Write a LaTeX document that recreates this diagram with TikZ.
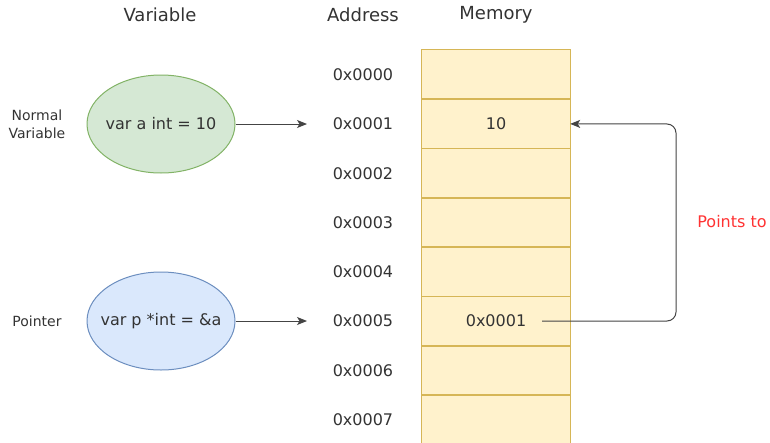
\documentclass[tikz,border=0pt]{standalone}
\usepackage{fontspec}
\setmainfont{DejaVu Sans}
\usetikzlibrary{arrows.meta,shapes.geometric}
\definecolor{txt}{HTML}{333333}
\definecolor{memfill}{HTML}{FFF2CC}
\definecolor{memline}{HTML}{D6B656}
\definecolor{gfill}{HTML}{D5E8D4}
\definecolor{gline}{HTML}{82B366}
\definecolor{bfill}{HTML}{DAE8FC}
\definecolor{bline}{HTML}{6C8EBF}
\definecolor{arr}{HTML}{444444}
\definecolor{redtxt}{HTML}{FF3333}
\tikzset{
  header/.style={font=\fontsize{18}{21}\selectfont, text=txt, inner sep=0pt},
  body/.style={font=\fontsize{16}{19}\selectfont, text=txt, inner sep=0pt},
  side/.style={font=\fontsize{14}{18}\selectfont, text=txt, inner sep=0pt, align=center},
  cell/.style={fill=memfill, minimum width=148pt, minimum height=49.3pt, inner sep=0pt, font=\fontsize{16}{19}\selectfont, text=txt},
  cellborder/.style={draw=memline, line width=1.3pt},
  varell/.style={ellipse, line width=1pt, minimum width=148pt, minimum height=98pt, inner sep=0pt},
  conn/.style={draw=arr, line width=1pt, -{Stealth[length=10pt,width=8pt,inset=2.5pt]}}
}
\begin{document}
\begin{tikzpicture}[x=1pt,y=-1pt]
\useasboundingbox (0,0) rectangle (770,442);
% headers
\node[header] (hvar) at (160,15) {Variable};
\node[header] (hadr) at (363,15) {Address};
\node[header] (hmem) at (496,15) {Memory};
% memory cells
\foreach \i/\v in {0/,1/10,2/,3/,4/,5/0x0001,6/,7/} {
  \node[cell] (m\i) at (496,{74.6+49.3*\i}) {\v};
}
\foreach \i in {0,...,7} {
  \draw[cellborder] (m\i.north west) rectangle (m\i.south east);
}
% addresses
\foreach \i in {0,...,7} {
  \node[body] (a\i) at (363,{74.6+49.3*\i}) {0x000\i};
}
% variables
\node[varell, draw=gline, fill=gfill] (va) at (161,124) {};
\node[body] (vat) at (va) {var a int = 10};
\node[varell, draw=bline, fill=bfill] (vp) at (161,321) {};
\node[body] (vpt) at (vp) {var p *int = \&a};
\node[side] (lnorm) at (37,124) {Normal\\Variable};
\node[side] (lptr) at (37,321) {Pointer};
% arrows
\coordinate (ta) at (307,124);
\coordinate (tp) at (307,321);
\draw[conn] (va.east) -- (ta);
\draw[conn] (vp.east) -- (tp);
\coordinate (pstart) at (542,321);
\draw[conn, rounded corners=9pt] (pstart) -- (676,321) -- (676,124) -- (m1.east);
\node[font=\fontsize{16}{19}\selectfont, text=redtxt, inner sep=0pt] (pt) at (732,222) {Points to};
\end{tikzpicture}
\end{document}
